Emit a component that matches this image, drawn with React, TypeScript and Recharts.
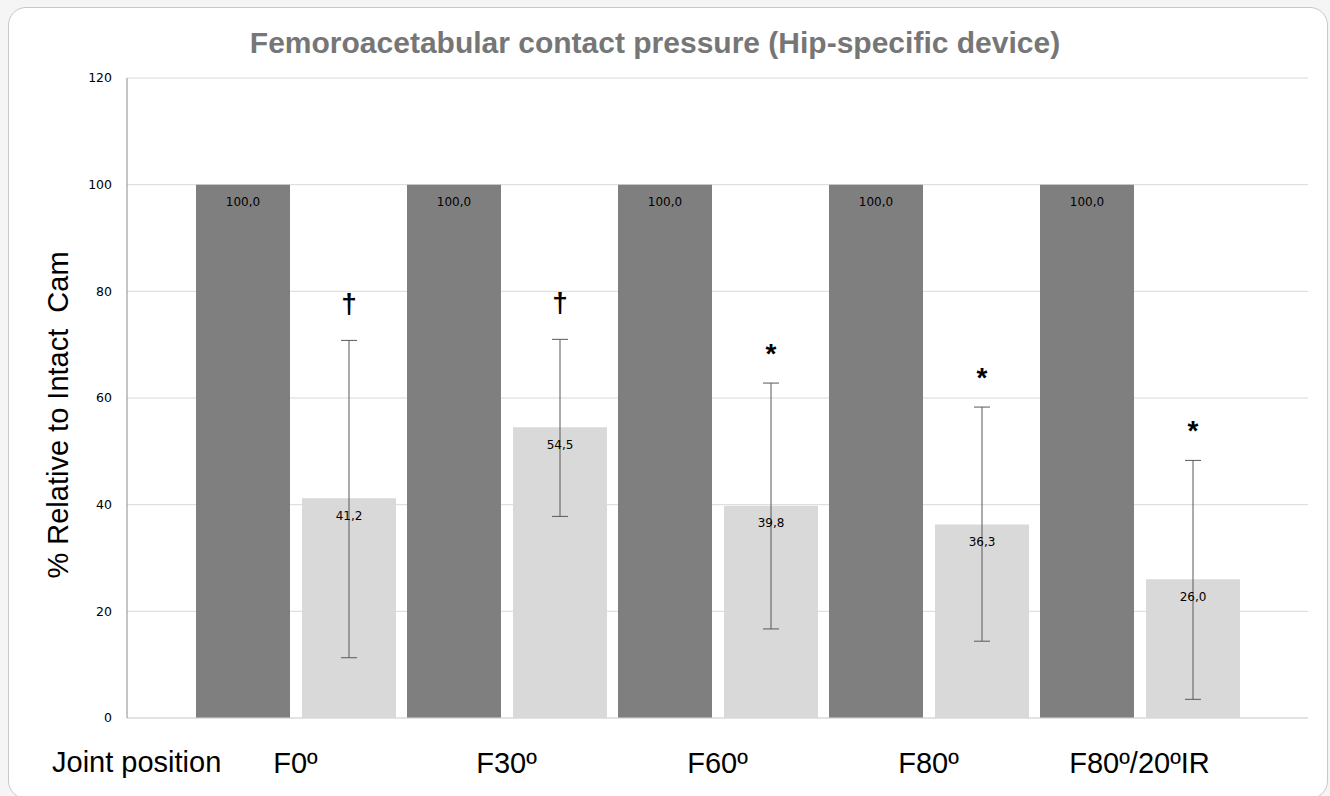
import React from "react";
import {
  BarChart,
  Bar,
  XAxis,
  YAxis,
  CartesianGrid,
  ErrorBar,
  LabelList,
} from "recharts";

const positions = ["F0º", "F30º", "F60º", "F80º", "F80º/20ºIR"];
const intactCam = [100, 100, 100, 100, 100];
const hipDevice = [41.2, 54.5, 39.8, 36.3, 26.0];
const errLower = [11.3, 37.8, 16.7, 14.4, 3.5];
const errUpper = [70.8, 71.0, 62.8, 58.3, 48.3];
const marks = ["†", "†", "*", "*", "*"];
const yTicks = [0, 20, 40, 60, 80, 100, 120];

const data = positions.map((p, i) => ({
  name: p,
  intact: intactCam[i],
  device: hipDevice[i],
  err: [hipDevice[i] - errLower[i], errUpper[i] - hipDevice[i]],
}));

const fmt = (v: number) => v.toFixed(1).replace(".", ",");

const AXIS_FONT = "'Liberation Sans', Arial, sans-serif";
const LABEL_FONT = "'DejaVu Sans', Verdana, sans-serif";

function XTick(props: any) {
  const { x, y, payload } = props;
  return (
    <text
      x={x}
      y={y + 55}
      textAnchor="middle"
      fontFamily={AXIS_FONT}
      fontSize={29}
      fill="#000"
    >
      {payload.value}
    </text>
  );
}

function MarkLabel(props: any) {
  const { x, y, width, height, value, index } = props;
  if (!value) return null;
  const pxPerUnit = height / value;
  const top = y + height - errUpper[index] * pxPerUnit;
  const m = marks[index];
  return (
    <text
      x={x + width / 2}
      y={top - (m === "†" ? 27 : 20)}
      textAnchor="middle"
      fontFamily={AXIS_FONT}
      fontWeight="bold"
      fontSize={28}
      fill="#000"
    >
      {m}
    </text>
  );
}

export default function App() {
  return (
    <div
      style={{
        position: "fixed",
        left: 0,
        top: 0,
        width: 1330,
        height: 796,
        background: "#f5f5f5",
        overflow: "hidden",
      }}
    >
      <div
        style={{
          position: "absolute",
          left: 8,
          top: 7,
          width: 1318,
          height: 790,
          border: "1px solid #c8c8c8",
          borderRadius: 18,
          background: "#fff",
        }}
      >
        <div
          style={{
            position: "absolute",
            left: 0,
            width: 1292,
            top: 20,
            textAlign: "center",
            fontFamily: AXIS_FONT,
            fontWeight: "bold",
            fontSize: 30,
            lineHeight: "30px",
            whiteSpace: "nowrap",
            color: "#767676",
          }}
        >
          Femoroacetabular contact pressure (Hip-specific device)
        </div>
        <div
          style={{
            position: "absolute",
            left: 49,
            top: 407,
            transform: "translate(-50%, -50%) rotate(-90deg)",
            fontFamily: AXIS_FONT,
            fontSize: 29,
            lineHeight: "32px",
            whiteSpace: "pre",
            color: "#000",
          }}
        >
          {"% Relative to Intact  Cam"}
        </div>
        <div
          style={{
            position: "absolute",
            left: 43,
            top: 740,
            fontFamily: AXIS_FONT,
            fontSize: 29,
            lineHeight: "29px",
            whiteSpace: "pre",
            color: "#000",
          }}
        >
          Joint position
        </div>
        <BarChart
          width={1318}
          height={780}
          data={data}
          margin={{ top: 70, right: 19, left: 0, bottom: 20 }}
          barSize={94}
          barGap={12}
        >
          <CartesianGrid vertical={false} stroke="#d9d9d9" />
          <XAxis
            dataKey="name"
            height={50}
            padding={{ left: 63, right: 63 }}
            tickLine={false}
            tickSize={0}
            tickMargin={0}
            axisLine={{ stroke: "#d9d9d9" }}
            tick={<XTick />}
            interval={0}
          />
          <YAxis
            width={118}
            domain={[0, 120]}
            ticks={yTicks}
            tickLine={false}
            tickSize={0}
            tickMargin={15}
            axisLine={{ stroke: "#8c8c8c" }}
            tick={{ fill: "#000", fontSize: 12.5, fontFamily: LABEL_FONT }}
          />
          <Bar dataKey="intact" fill="#7f7f7f" isAnimationActive={false}>
            <LabelList
              dataKey="intact"
              position="insideTop"
              offset={13}
              formatter={(v: any) => fmt(Number(v))}
              style={{ fontSize: 12, fontFamily: LABEL_FONT, fill: "#000" }}
            />
          </Bar>
          <Bar dataKey="device" fill="#d9d9d9" isAnimationActive={false}>
            <ErrorBar
              dataKey="err"
              width={8}
              stroke="#595959"
              strokeWidth={1}
              direction="y"
            />
            <LabelList
              dataKey="device"
              position="insideTop"
              offset={13}
              formatter={(v: any) => fmt(Number(v))}
              style={{ fontSize: 12, fontFamily: LABEL_FONT, fill: "#000" }}
            />
            <LabelList dataKey="device" content={<MarkLabel />} />
          </Bar>
        </BarChart>
      </div>
    </div>
  );
}
